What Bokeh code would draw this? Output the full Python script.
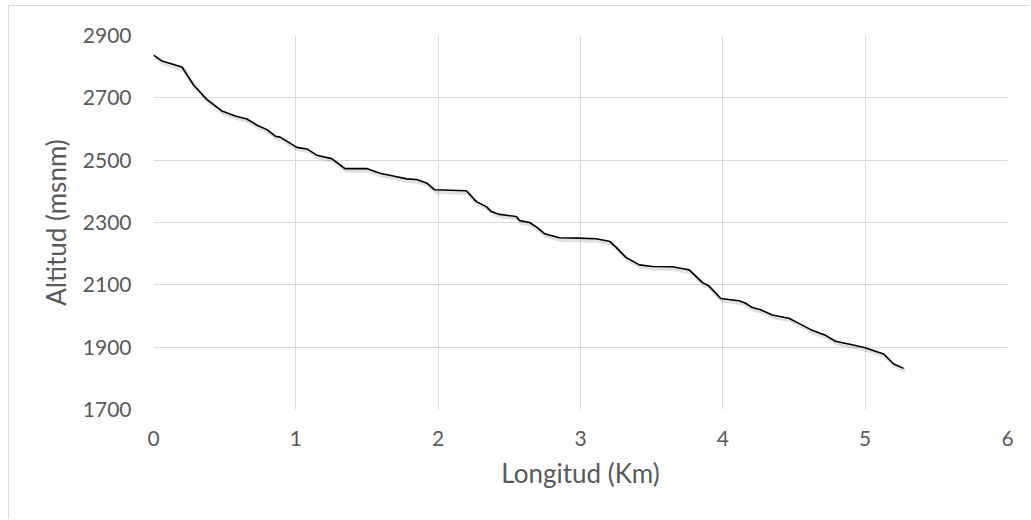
from bokeh.plotting import figure
from bokeh.models import FixedTicker, Range1d
from bokeh.embed import file_html
from bokeh.resources import INLINE

longitud_km = [0, 0.06, 0.2, 0.28, 0.376, 0.48, 0.575, 0.656, 0.727, 0.797, 0.855, 0.89,
               1.007, 1.077, 1.147, 1.252, 1.345, 1.497, 1.59, 1.684, 1.778, 1.848, 1.918,
               1.976, 2.198, 2.268, 2.338, 2.373, 2.432, 2.548, 2.572, 2.642, 2.689, 2.747,
               2.852, 2.992, 3.109, 3.202, 3.249, 3.319, 3.413, 3.506, 3.646, 3.74, 3.763,
               3.857, 3.903, 3.985, 4.114, 4.16, 4.207, 4.266, 4.347, 4.464, 4.51, 4.581,
               4.627, 4.721, 4.791, 4.908, 5.001, 5.071, 5.13, 5.2, 5.27]
altitud_msnm = [2837, 2818, 2799, 2742, 2694, 2658, 2642, 2632, 2612, 2598, 2577, 2574,
                2541, 2536, 2516, 2505, 2473, 2473, 2458, 2449, 2440, 2438, 2427,
                2405, 2402, 2367, 2351, 2335, 2326, 2319, 2306, 2300, 2286, 2264,
                2251, 2250, 2248, 2240, 2221, 2188, 2164, 2159, 2158, 2150, 2148,
                2107, 2096, 2056, 2049, 2041, 2027, 2020, 2003, 1993, 1982, 1965,
                1954, 1938, 1919, 1908, 1898, 1887, 1878, 1846, 1832]
x_ticks = [0, 1, 2, 3, 4, 5, 6]
y_ticks = [1700, 1900, 2100, 2300, 2500, 2700, 2900]

FONT = "Lato"
GREY_TXT = "#595959"
GRID = "#d9d9d9"

p = figure(width=1022, height=514, output_backend="svg", toolbar_location=None,
           x_range=Range1d(0, 6), y_range=Range1d(1700, 2900),
           min_border_left=144, min_border_right=24, min_border_top=29, min_border_bottom=111,
           margin=(5, 0, 0, 8),
           styles={"border-left": "1px solid #d9d9d9", "border-top": "1px solid #d9d9d9"})
p.outline_line_color = None
p.background_fill_color = "white"
p.border_fill_color = "white"

# subtle shadow
p.line([v + 0.012 for v in longitud_km], [v - 7 for v in altitud_msnm],
       line_color="black", line_alpha=0.12, line_width=4)
p.line(longitud_km, altitud_msnm, line_color="black", line_width=1.6)

for ax in (p.xaxis[0], p.yaxis[0]):
    ax.axis_line_color = None
    ax.major_tick_line_color = None
    ax.minor_tick_line_color = None
    ax.major_tick_out = 0
    ax.major_tick_in = 0
    ax.major_label_text_font = FONT
    ax.major_label_text_font_size = "21px"
    ax.major_label_text_color = GREY_TXT
    ax.axis_label_text_font = FONT
    ax.axis_label_text_font_size = "26px"
    ax.axis_label_text_font_style = "normal"
    ax.axis_label_text_color = GREY_TXT

p.xaxis.ticker = FixedTicker(ticks=x_ticks)
p.yaxis.ticker = FixedTicker(ticks=y_ticks)
p.xaxis.axis_label = "Longitud (Km)"
p.yaxis.axis_label = "Altitud (msnm)"
p.xaxis.major_label_standoff = 21
p.xaxis.axis_label_standoff = 8
p.yaxis.major_label_standoff = 22
p.yaxis.axis_label_standoff = 8

p.xgrid.grid_line_color = GRID
p.ygrid.grid_line_color = GRID
p.xgrid.grid_line_width = 1
p.ygrid.grid_line_width = 1

open("out.html", "w").write(file_html(p, INLINE))
